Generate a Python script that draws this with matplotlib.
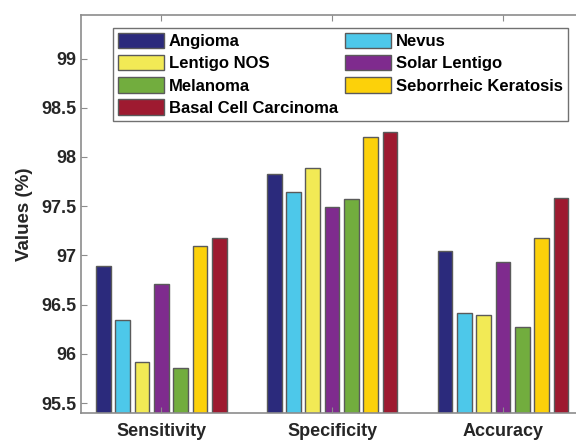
import numpy as np
import matplotlib.pyplot as plt

plt.rcParams['font.family'] = ['Liberation Sans', 'DejaVu Sans']

metrics = ['Sensitivity', 'Specificity', 'Accuracy']
classes = ['Angioma', 'Nevus', 'Lentigo NOS', 'Solar Lentigo', 'Melanoma',
           'Seborrheic Keratosis', 'Basal Cell Carcinoma']
angioma = [96.89, 97.83, 97.05]
nevus = [96.34, 97.64, 96.42]
lentigo_nos = [95.92, 97.89, 96.40]
solar_lentigo = [96.71, 97.49, 96.93]
melanoma = [95.86, 97.57, 96.27]
seborrheic = [97.10, 98.20, 97.18]
basal_cell = [97.18, 98.25, 97.58]
colors = ['#2b2a7c', '#4dc8ea', '#f2ea55', '#7f2b8e', '#72ad3e', '#fcd10a', '#9e1a30']

series = [angioma, nevus, lentigo_nos, solar_lentigo, melanoma, seborrheic, basal_cell]

fig = plt.figure(figsize=(5.76, 4.43), dpi=100)
ax = fig.add_axes([0.1406, 0.0677, 0.881, 0.898])

x = np.arange(1, len(metrics) + 1)
step = 0.113
width = 0.086
handles = []
for i, (vals, name, c) in enumerate(zip(series, classes, colors)):
    off = (i - 3) * step
    b = ax.bar(x + off, vals, width, color=c, edgecolor='#5a5a5a',
               linewidth=1.0, label=name)
    handles.append(b)

ax.set_xlim(0.53, 3.5)
ax.set_ylim(95.4, 99.44)
ax.set_yticks([95.5, 96, 96.5, 97, 97.5, 98, 98.5, 99])
ax.set_yticklabels(['95.5', '96', '96.5', '97', '97.5', '98', '98.5', '99'])
ax.set_xticks(x)
ax.set_xticklabels(metrics)
ax.set_ylabel('Values (%)', fontsize=13.5, fontweight='bold', color='#262626',
              labelpad=6)

for s in ax.spines.values():
    s.set_color('#8c8c8c')
    s.set_linewidth(1.2)
ax.tick_params(direction='in', top=True, right=True, length=4, color='#8c8c8c',
               labelsize=13, labelcolor='#262626')
for lab in ax.get_xticklabels() + ax.get_yticklabels():
    lab.set_fontweight('bold')
ax.tick_params(axis='x', pad=7)

# legend filled row by row like the original
order = [0, 2, 4, 6, 1, 3, 5]
leg = ax.legend([handles[i] for i in order], [classes[i] for i in order],
                ncol=2, loc='upper left', bbox_to_anchor=(0.0625, 0.968),
                prop={'weight': 'bold', 'size': 12.0}, frameon=True, fancybox=False,
                edgecolor='#4d4d4d', handlelength=2.75, handleheight=1.05,
                labelspacing=0.34, columnspacing=0.45, handletextpad=0.3,
                borderpad=0.3, borderaxespad=0)
leg.get_frame().set_linewidth(1.0)

fig.savefig('out.png', dpi=100)
